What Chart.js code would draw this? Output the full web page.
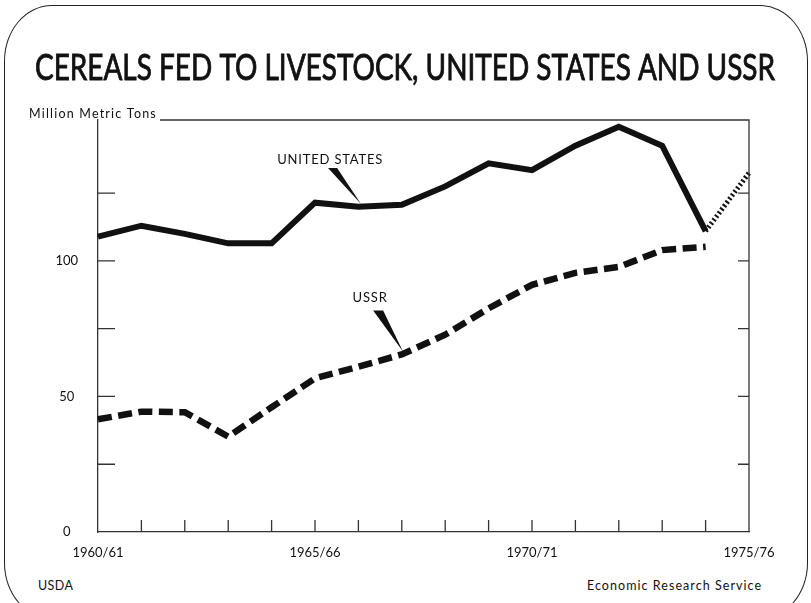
<!DOCTYPE html>
<html>
<head>
<meta charset="utf-8">
<script src="https://cdn.jsdelivr.net/npm/chart.js@4"></script>
<style>
  html, body { margin: 0; padding: 0; background: #fff; }
  #page { position: relative; width: 811px; height: 603px; overflow: hidden; font-family: Lato, "Open Sans", sans-serif; color: #111; }
  #frame { position: absolute; left: 4px; top: 5px; width: 802px; height: 612px; border: 1.5px solid #222; border-radius: 48px / 56px; }
  .foot { position: absolute; top: 578px; font-size: 12.5px; letter-spacing: 0.4px; }
  #wrap { position: absolute; left: 0; top: 0; width: 811px; height: 603px; }
</style>
</head>
<body>
<div id="page">
  <div id="frame"></div>
  <div class="foot" style="left:38px">USDA</div>
  <div class="foot" style="left:587px; letter-spacing:1.05px">Economic Research Service</div>
  <div id="wrap"><canvas id="chart"></canvas></div>
</div>
<script>
// crop years, 1960/61 .. 1975/76
const years = ['1960/61', '1961/62', '1962/63', '1963/64', '1964/65', '1965/66', '1966/67', '1967/68',
               '1968/69', '1969/70', '1970/71', '1971/72', '1972/73', '1973/74', '1974/75', '1975/76'];
const labeledYears = ['1960/61', '1965/66', '1970/71', '1975/76'];

// million metric tons
const unitedStates = [109, 113, 110, 106.5, 106.5, 121.5, 120, 120.7, 127.5, 136, 133.5, 142.5, 149.5, 142.5, 111, 132.5];
const ussr = [41.6, 44.4, 44.2, 35.2, 46, 56.7, 61, 65.5, 72.8, 82.5, 91.2, 95.6, 97.8, 104, 105.2, null];
const usProjectedFrom = 14; // last segment is a projection (dotted)

const yTicks = [0, 25, 50, 75, 100, 125];
const yLabeled = [0, 50, 100];

const titleText = 'CEREALS FED TO LIVESTOCK, UNITED STATES AND USSR';
const ink = '#111';

const frameAndLabels = {
  id: 'frameAndLabels',
  afterDraw(chart) {
    const { ctx, chartArea: a, scales: { x, y } } = chart;
    ctx.save();

    // title, squeezed to the width it has in the original
    ctx.font = '36px Lato';
    ctx.fillStyle = ink;
    ctx.strokeStyle = ink;
    ctx.textAlign = 'center';
    ctx.textBaseline = 'alphabetic';
    const tw = ctx.measureText(titleText).width;
    ctx.save();
    ctx.translate(405, 80);
    ctx.scale(740 / tw, 1);
    ctx.lineWidth = 0.9;
    ctx.fillText(titleText, 0, 0);
    ctx.strokeText(titleText, 0, 0);
    ctx.restore();

    ctx.strokeStyle = '#333';
    ctx.lineWidth = 1.3;

    // unit label and the top rule that follows it
    ctx.font = '12.5px Lato';
    ctx.letterSpacing = '1.2px';
    ctx.textAlign = 'left';
    const unit = 'Million Metric Tons';
    ctx.fillText(unit, 29, a.top - 2);
    const uw = ctx.measureText(unit).width;
    ctx.letterSpacing = '0px';
    ctx.beginPath();
    ctx.moveTo(29 + uw + 3, a.top);
    ctx.lineTo(a.right, a.top);
    ctx.lineTo(a.right, a.bottom);
    ctx.stroke();

    // inward tick marks
    ctx.beginPath();
    yTicks.slice(1).forEach(v => {
      const py = y.getPixelForValue(v);
      ctx.moveTo(a.left, py); ctx.lineTo(a.left + 17, py);
      ctx.moveTo(a.right, py); ctx.lineTo(a.right - 11, py);
    });
    for (let i = 1; i < years.length - 1; i++) {
      const px = x.getPixelForValue(i);
      ctx.moveTo(px, a.bottom); ctx.lineTo(px, a.bottom - 12);
    }
    ctx.stroke();

    // series labels with wedge pointers
    const callout = (text, tx, ty, w0, w1, wy, px, py) => {
      ctx.font = '13px Lato';
      ctx.letterSpacing = '0.8px';
      ctx.textAlign = 'center';
      ctx.textBaseline = 'middle';
      ctx.fillText(text, x.getPixelForValue(tx), y.getPixelForValue(ty));
      ctx.letterSpacing = '0px';
      ctx.beginPath();
      ctx.moveTo(x.getPixelForValue(w0), y.getPixelForValue(wy));
      ctx.lineTo(x.getPixelForValue(w1), y.getPixelForValue(wy));
      ctx.lineTo(x.getPixelForValue(px), y.getPixelForValue(py));
      ctx.closePath();
      ctx.fill();
    };
    callout('UNITED STATES', 5.35, 137.3, 5.30, 5.51, 134.3, 6.06, 121);
    callout('USSR', 6.27, 86.3, 6.34, 6.57, 81.7, 7.03, 66.5);
    ctx.restore();
  }
};

new Chart(document.getElementById('chart'), {
  type: 'line',
  data: {
    labels: years,
    datasets: [{
      label: 'United States',
      data: unitedStates,
      borderColor: ink,
      borderWidth: 6,
      borderJoinStyle: 'miter',
      pointRadius: 0,
      tension: 0,
      segment: {
        borderDash: c => c.p0DataIndex >= usProjectedFrom ? [2, 2.4] : [],
        borderWidth: c => c.p0DataIndex >= usProjectedFrom ? 5 : 6
      }
    }, {
      label: 'USSR',
      data: ussr,
      borderColor: ink,
      borderWidth: 6.5,
      borderDash: [14, 6.5],
      borderCapStyle: 'butt',
      pointRadius: 0,
      tension: 0,
      spanGaps: false
    }]
  },
  options: {
    responsive: true,
    maintainAspectRatio: false,
    animation: false,
    layout: { padding: { left: 40, right: 62, top: 120, bottom: 31 } },
    plugins: { legend: { display: false }, tooltip: { enabled: false } },
    scales: {
      x: {
        grid: { display: false, drawTicks: false },
        border: { display: true, color: '#333', width: 1.3 },
        afterFit: s => { s.height = 40; },
        ticks: {
          autoSkip: false,
          maxRotation: 0,
          padding: 13,
          color: ink,
          font: { family: 'Lato', size: 13 },
          callback: function (v) {
            const l = this.getLabelForValue(v);
            return labeledYears.includes(l) ? l : '';
          }
        }
      },
      y: {
        min: 0,
        max: 152,
        grid: { display: false, drawTicks: false },
        border: { display: true, color: '#333', width: 1.3 },
        afterFit: s => { s.width = 58; },
        ticks: {
          stepSize: 25,
          padding: 20,
          crossAlign: 'center',
          color: ink,
          font: { family: 'Lato', size: 13 },
          callback: v => yLabeled.includes(v) ? String(v) : ''
        }
      }
    }
  },
  plugins: [frameAndLabels]
});
</script>
</body>
</html>
